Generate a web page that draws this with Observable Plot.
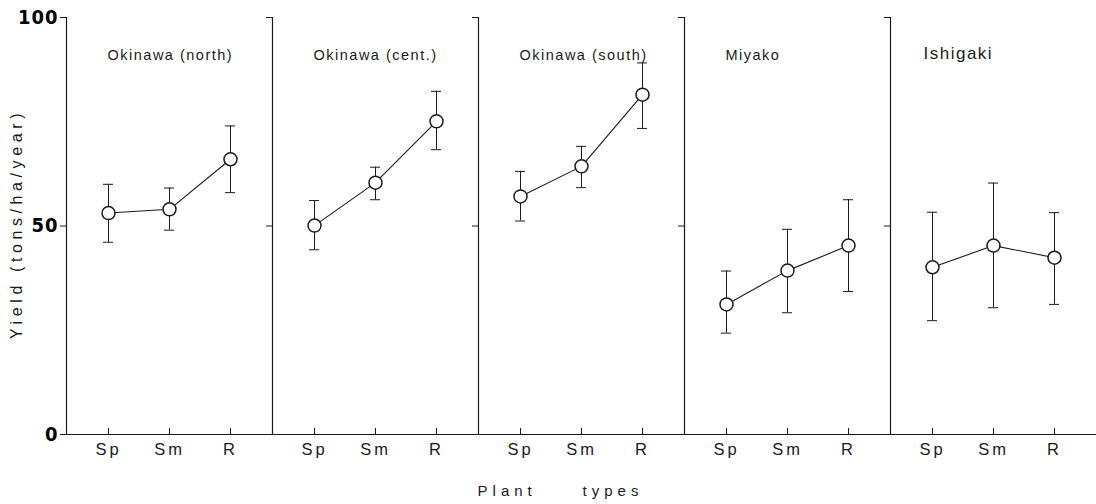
<!DOCTYPE html>
<html>
<head>
<meta charset="utf-8">
<script src="https://cdn.jsdelivr.net/npm/d3@7"></script>
<script src="https://cdn.jsdelivr.net/npm/@observablehq/plot@0.6"></script>
<style>
  html, body { margin: 0; padding: 0; background: #fff; }
  #chart svg { display: block; background: #fff; }
  g[aria-label="x-axis tick label"] text { letter-spacing: 3px; }
  g[aria-label="y-axis tick label"] text { letter-spacing: 1px; }
  text { white-space: pre; }
</style>
</head>
<body>
<div id="chart"></div>
<script>
// ---- data ----
const regions = ["Okinawa (north)", "Okinawa (cent.)", "Okinawa (south)", "Miyako", "Ishigaki"];
const plantTypes = ["Sp", "Sm", "R"];
const yTicks = [0, 50, 100];
// mean yield (tons/ha/year) per region, in plantTypes order
const meanYield = [
  [53.1, 54.0, 66.0],
  [50.1, 60.4, 75.1],
  [57.1, 64.3, 81.5],
  [31.2, 39.3, 45.3],
  [40.1, 45.3, 42.4]
];
// lower end of error bar
const lowYield = [
  [46.1, 49.0, 58.0],
  [44.3, 56.3, 68.3],
  [51.2, 59.2, 73.4],
  [24.3, 29.2, 34.3],
  [27.3, 30.4, 31.2]
];
// upper end of error bar
const highYield = [
  [60.0, 59.1, 74.0],
  [56.1, 64.1, 82.3],
  [63.1, 69.1, 89.1],
  [39.2, 49.2, 56.3],
  [53.3, 60.3, 53.2]
];
const yTitle = "Yield (tons/ha/year)";
const xTitle = "Plant     types";

const rows = [];
regions.forEach((region, i) => {
  plantTypes.forEach((t, j) => {
    rows.push({region, type: t, mean: meanYield[i][j], low: lowYield[i][j], high: highYield[i][j]});
  });
});

const ink = "#1a1a1a";
const font = "'Liberation Sans', Arial, sans-serif";
const isBig = d => d === "Ishigaki";

const chart = Plot.plot({
  width: 1096,
  height: 504,
  marginTop: 17,
  marginBottom: 70,
  marginLeft: 65,
  marginRight: 0,
  style: {fontFamily: font, color: ink, background: "#fff", overflow: "visible"},
  fx: {domain: regions, padding: 0, axis: null, label: null},
  x: {domain: plantTypes, type: "band", paddingInner: 0.84, paddingOuter: 0.585, axis: null, label: null},
  y: {domain: [0, 100], axis: null, label: null},
  marks: [
    // panel left line and baseline
    Plot.frame({anchor: "left", stroke: ink, strokeWidth: 1.2}),
    Plot.ruleY([0], {stroke: ink, strokeWidth: 1.2}),
    // y ticks on every panel
    Plot.axisY({ticks: yTicks, tickSize: 6, tickFormat: () => "", facetAnchor: null, stroke: ink, label: null}),
    // y tick labels on first panel
    Plot.axisY({ticks: yTicks, tickSize: 0, tickPadding: 8, fontSize: 20, fontWeight: "bold",
      fontFamily: "'DejaVu Sans Condensed', 'Liberation Sans Narrow', sans-serif", fill: "#000", label: null}),
    // x ticks (pointing up) and labels
    Plot.axisX({tickSize: -6, tickFormat: () => "", stroke: ink, label: null}),
    Plot.axisX({tickSize: 0, tickPadding: 9, fontSize: 16.5, fill: ink, label: null}),
    // error bars
    Plot.ruleX(rows, {fx: "region", x: "type", y1: "low", y2: "high", stroke: ink, strokeWidth: 1}),
    Plot.tickY(rows, {fx: "region", x: "type", y: "low", stroke: ink, strokeWidth: 1}),
    Plot.tickY(rows, {fx: "region", x: "type", y: "high", stroke: ink, strokeWidth: 1}),
    // connecting line and points
    Plot.line(rows, {fx: "region", x: "type", y: "mean", stroke: ink, strokeWidth: 1.1}),
    Plot.dot(rows, {fx: "region", x: "type", y: "mean", r: 6.5, fill: "#fff", stroke: ink, strokeWidth: 1.5}),
    // panel titles
    Plot.text(regions.filter(d => !isBig(d)), {fx: d => d, text: d => d, frameAnchor: "top-left", textAnchor: "start",
      dx: 41, dy: 38, lineAnchor: "middle", fill: ink, fontSize: 14.5}),
    Plot.text(regions.filter(isBig), {fx: d => d, text: d => d, frameAnchor: "top-left", textAnchor: "start",
      dx: 33, dy: 36, lineAnchor: "middle", fill: ink, fontSize: 17}),
    // axis titles
    Plot.text([yTitle], {fx: () => regions[0], text: d => d, frameAnchor: "left", dx: -50, dy: -2, rotate: -90,
      textAnchor: "middle", fontSize: 16, fill: ink}),
    Plot.text([xTitle], {fx: () => regions[2], text: d => d, frameAnchor: "bottom-left", dx: 82, dy: 57,
      textAnchor: "middle", lineAnchor: "middle", fontSize: 15, fill: ink})
  ]
});

// letter spacing of the typeset labels
const spacing = new Map([
  ...regions.map(r => [r, isBig(r) ? "1.5px" : "1.5px"]),
  [yTitle, "4.6px"],
  [xTitle, "5px"]
]);
d3.select(chart).selectAll("text").each(function() {
  const s = spacing.get(this.textContent);
  if (s) this.style.letterSpacing = s;
});

document.getElementById("chart").appendChild(chart);
</script>
</body>
</html>
